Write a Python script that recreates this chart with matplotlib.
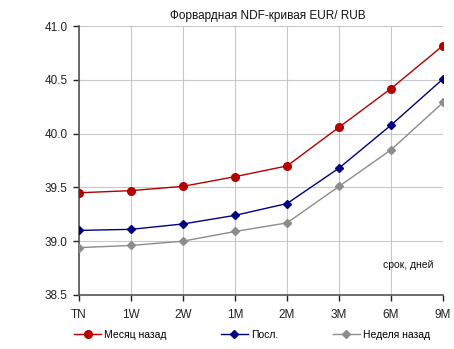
import matplotlib
matplotlib.use("Agg")
import matplotlib.pyplot as plt
from matplotlib.lines import Line2D

plt.rcParams['font.family'] = ['Liberation Sans', 'DejaVu Sans']

tenors = ["TN", "1W", "2W", "1M", "2M", "3M", "6M", "9M"]
month_ago = [39.45, 39.47, 39.51, 39.60, 39.70, 40.06, 40.42, 40.82]
latest = [39.10, 39.11, 39.16, 39.24, 39.35, 39.68, 40.08, 40.51]
week_ago = [38.94, 38.96, 39.00, 39.09, 39.17, 39.51, 39.85, 40.29]
series_names = ["Месяц назад", "Посл.", "Неделя назад"]
y_ticks = [38.5, 39.0, 39.5, 40.0, 40.5, 41.0]

fig = plt.figure(figsize=(4.54, 3.49), dpi=100)
ax = fig.add_axes([0.174, 0.155, 0.802, 0.770])

styles = [
    dict(color="#B40000", marker="o", markersize=5.5),
    dict(color="#000080", marker="D", markersize=4.5),
    dict(color="#8C8C8C", marker="D", markersize=4.5),
]

x = list(range(len(tenors)))
for vals, st, z in zip([month_ago, latest, week_ago], styles, [5, 4, 3]):
    ax.plot(x, vals, lw=1.0, zorder=z, **st)

ax.set_xlim(0, len(tenors) - 1)
ax.set_ylim(38.5, 41.0)
ax.set_xticks(x)
ax.set_xticklabels(tenors)
ax.set_yticks(y_ticks)
ax.set_yticklabels([f"{v:.1f}" for v in y_ticks])
ax.tick_params(labelsize=8.5, colors="#222222", length=4, width=1, direction="out", pad=4)
ax.tick_params(axis="x", pad=6)

ax.grid(True, color="#C8C8C8", lw=0.8)
ax.set_axisbelow(True)
for s in ("top", "right"):
    ax.spines[s].set_visible(False)
for s in ("left", "bottom"):
    ax.spines[s].set_color("#555555")
    ax.spines[s].set_linewidth(1.2)

fig.text(0.59, 0.955, "Форвардная NDF-кривая EUR/ RUB", ha="center", va="center",
         fontsize=8.5, color="#111111")
ax.text(0.973, 0.11, "срок, дней", transform=ax.transAxes, ha="right", va="center",
        fontsize=7.5, color="#111111")

handles = [Line2D([], [], lw=1.0, **st) for st in styles]
fig.legend(handles, series_names, loc="center", bbox_to_anchor=(0.555, 0.04), ncol=3,
           frameon=False, fontsize=7.5, handlelength=2.6, columnspacing=5.2,
           handletextpad=0.3)

fig.savefig("out.png", dpi=100)
